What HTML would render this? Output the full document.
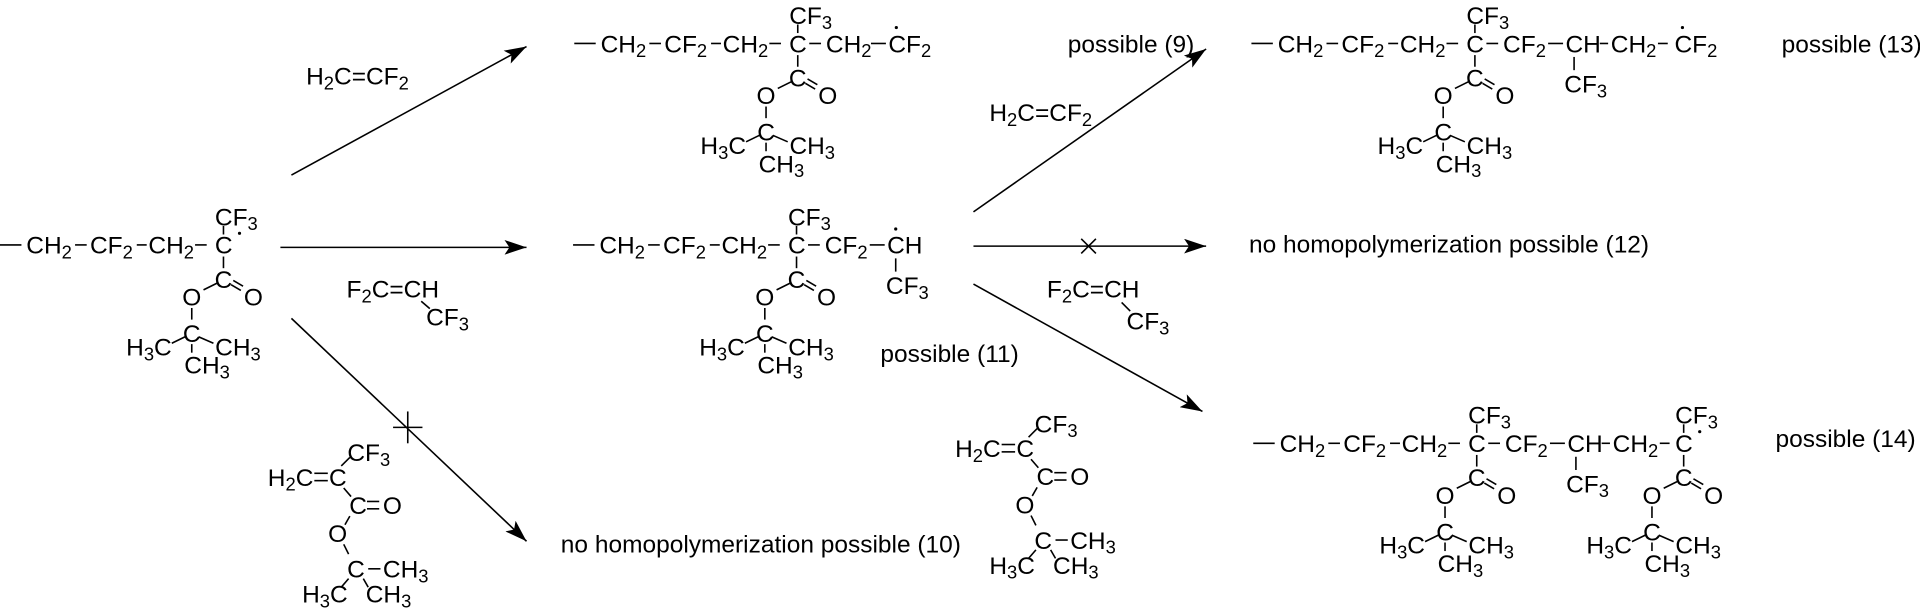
<!DOCTYPE html>
<html><head><meta charset="utf-8"><style>
html,body{margin:0;padding:0;background:#fff;}
svg{display:block;}
text{font-family:"Liberation Sans",Arial,sans-serif;font-size:20px;fill:#000;}
.l{font-size:20px;}
line,polyline{stroke:#000;stroke-width:1.3;fill:none;}
</style></head><body>
<svg width="1920" height="608" viewBox="0 0 1568 496.5" preserveAspectRatio="none" xmlns="http://www.w3.org/2000/svg">
<defs>
<marker id="ah" markerUnits="userSpaceOnUse" markerWidth="20" markerHeight="12" refX="18" refY="6" orient="auto">
<path d="M0,0 L18,6 L0,12 L4,6 z" fill="#000"/>
</marker>
<g id="ester">
<line x1="0" y1="-15.5" x2="0" y2="-8.5"/>
<text x="-7" y="-16">CF<tspan dy="4" font-size="15">3</tspan></text>
<line x1="0" y1="9.5" x2="0" y2="19"/>
<text x="0" y="35" text-anchor="middle">C</text>
<line x1="8" y1="29" x2="16" y2="33.7"/>
<line x1="6.2" y1="32.5" x2="14.2" y2="37.2"/>
<text x="24.5" y="49.4" text-anchor="middle">O</text>
<line x1="-5.4" y1="31.3" x2="-16.3" y2="36.7"/>
<text x="-25.9" y="49.4" text-anchor="middle">O</text>
<line x1="-25.9" y1="51.5" x2="-25.9" y2="61"/>
<text x="-25.9" y="79.2" text-anchor="middle">C</text>
<line x1="-31.3" y1="75" x2="-42.2" y2="80.3"/>
<text x="-79.5" y="90.2">H<tspan dy="4" font-size="15">3</tspan><tspan dy="-4">C</tspan></text>
<line x1="-20.4" y1="75" x2="-8.2" y2="80.3"/>
<text x="-6.8" y="90.2">CH<tspan dy="4" font-size="15">3</tspan></text>
<line x1="-25.9" y1="81" x2="-25.9" y2="88"/>
<text x="-32" y="105.2">CH<tspan dy="4" font-size="15">3</tspan></text>
</g>
<g id="head">
<line x1="0" y1="0" x2="17.5" y2="0"/>
<text x="21.5" y="7.2">CH<tspan dy="4" font-size="15">2</tspan></text>
<line x1="61.3" y1="0" x2="70.8" y2="0"/>
<text x="73.5" y="7.2">CF<tspan dy="4" font-size="15">2</tspan></text>
<line x1="111.7" y1="0" x2="119.8" y2="0"/>
<text x="121.2" y="7.2">CH<tspan dy="4" font-size="15">2</tspan></text>
<line x1="159.3" y1="0" x2="168.8" y2="0"/>
<text x="175.5" y="7.2">C</text>
<use href="#ester" x="182.5" y="0"/>
</g>
<g id="monomer">
<text x="845" y="353">CF<tspan dy="4" font-size="15">3</tspan></text>
<text x="780" y="373.2">H<tspan dy="4" font-size="15">2</tspan><tspan dy="-4">C</tspan></text>
<line x1="818" y1="363" x2="829" y2="363"/>
<line x1="818" y1="369" x2="829" y2="369"/>
<text x="830" y="373.2">C</text>
<line x1="840" y1="357" x2="847" y2="350"/>
<line x1="842" y1="375" x2="848" y2="382"/>
<text x="846.5" y="396.2">C</text>
<line x1="861" y1="386" x2="871" y2="386"/>
<line x1="861" y1="392" x2="871" y2="392"/>
<text x="874" y="396.2">O</text>
<line x1="847" y1="398" x2="843" y2="405"/>
<text x="837" y="419.2" text-anchor="middle">O</text>
<line x1="842" y1="421" x2="846" y2="429"/>
<text x="852" y="448.2" text-anchor="middle">C</text>
<line x1="862" y1="441" x2="872" y2="441"/>
<text x="874" y="448.2">CH<tspan dy="4" font-size="15">3</tspan></text>
<line x1="846" y1="449" x2="840" y2="456"/>
<text x="808" y="468.6">H<tspan dy="4" font-size="15">3</tspan><tspan dy="-4">C</tspan></text>
<line x1="858" y1="449" x2="862" y2="456"/>
<text x="860" y="468.6">CH<tspan dy="4" font-size="15">3</tspan></text>
</g>
</defs>

<!-- A -->
<g transform="translate(0,200)">
<use href="#head"/>
<circle cx="195.6" cy="-9.5" r="1.3" fill="#000"/>
</g>

<!-- B -->
<g transform="translate(469,35.5)">
<use href="#head"/>
<line x1="191.9" y1="0" x2="201.5" y2="0"/>
<text x="205.5" y="7.2">CH<tspan dy="4" font-size="15">2</tspan></text>
<line x1="242.3" y1="0" x2="254.5" y2="0"/>
<text x="256.5" y="7.2">CF<tspan dy="4" font-size="15">2</tspan></text>
<circle cx="263" cy="-13" r="1.3" fill="#000"/>
</g>

<!-- C -->
<g transform="translate(468,200)">
<use href="#head"/>
<line x1="191.9" y1="0" x2="201.5" y2="0"/>
<text x="205.5" y="7.2">CF<tspan dy="4" font-size="15">2</tspan></text>
<line x1="242.3" y1="0" x2="254.5" y2="0"/>
<text x="256.5" y="7.2">CH</text>
<circle cx="263.5" cy="-13" r="1.3" fill="#000"/>
<line x1="263.5" y1="11" x2="263.5" y2="21.8"/>
<text x="255.5" y="40">CF<tspan dy="4" font-size="15">3</tspan></text>
</g>

<!-- D -->
<g transform="translate(1022,35.5)">
<use href="#head"/>
<line x1="191.9" y1="0" x2="201.5" y2="0"/>
<text x="205.5" y="7.2">CF<tspan dy="4" font-size="15">2</tspan></text>
<line x1="242.3" y1="0" x2="254.5" y2="0"/>
<text x="256.5" y="7.2">CH</text>
<line x1="263.5" y1="11" x2="263.5" y2="21.8"/>
<text x="255.5" y="40">CF<tspan dy="4" font-size="15">3</tspan></text>
<line x1="284.5" y1="0" x2="291.3" y2="0"/>
<text x="293.5" y="7.2">CH<tspan dy="4" font-size="15">2</tspan></text>
<line x1="332" y1="0" x2="340" y2="0"/>
<text x="345.5" y="7.2">CF<tspan dy="4" font-size="15">2</tspan></text>
<circle cx="352" cy="-13" r="1.3" fill="#000"/>
</g>

<!-- E -->
<g transform="translate(1023.5,362)">
<use href="#head"/>
<line x1="191.9" y1="0" x2="201.5" y2="0"/>
<text x="205.5" y="7.2">CF<tspan dy="4" font-size="15">2</tspan></text>
<line x1="242.3" y1="0" x2="254.5" y2="0"/>
<text x="256.5" y="7.2">CH</text>
<line x1="263.5" y1="11" x2="263.5" y2="21.8"/>
<text x="255.5" y="40">CF<tspan dy="4" font-size="15">3</tspan></text>
<line x1="284.5" y1="0" x2="291.3" y2="0"/>
<text x="293.5" y="7.2">CH<tspan dy="4" font-size="15">2</tspan></text>
<line x1="332" y1="0" x2="340" y2="0"/>
<text x="344.5" y="7.2">C</text>
<use href="#ester" x="351.5" y="0"/>
<circle cx="364.6" cy="-9.5" r="1.3" fill="#000"/>
</g>

<!-- monomers -->
<use href="#monomer"/>
<use href="#monomer" x="-561.3" y="23.5"/>

<!-- reagents -->
<text x="250" y="69">H<tspan dy="4" font-size="15">2</tspan><tspan dy="-4">C=CF</tspan><tspan dy="4" font-size="15">2</tspan></text>
<text x="808" y="99">H<tspan dy="4" font-size="15">2</tspan><tspan dy="-4">C=CF</tspan><tspan dy="4" font-size="15">2</tspan></text>
<text x="283" y="243">F<tspan dy="4" font-size="15">2</tspan><tspan dy="-4">C=CH</tspan></text>
<line x1="344" y1="246" x2="351" y2="252"/>
<text x="348" y="266">CF<tspan dy="4" font-size="15">3</tspan></text>
<text x="855" y="243">F<tspan dy="4" font-size="15">2</tspan><tspan dy="-4">C=CH</tspan></text>
<line x1="916" y1="247" x2="923" y2="254"/>
<text x="920" y="269">CF<tspan dy="4" font-size="15">3</tspan></text>

<!-- labels -->
<text class="l" x="872" y="43">possible (9)</text>
<text class="l" x="719" y="295.5">possible (11)</text>
<text class="l" x="1455" y="43">possible (13)</text>
<text class="l" x="1450" y="365">possible (14)</text>
<text class="l" x="1020" y="206">no homopolymerization possible (12)</text>
<text class="l" x="458" y="451">no homopolymerization possible (10)</text>

<!-- arrows -->
<line x1="238" y1="143" x2="430" y2="38" marker-end="url(#ah)"/>
<line x1="229" y1="202" x2="430" y2="202" marker-end="url(#ah)"/>
<line x1="238" y1="260" x2="430" y2="442" marker-end="url(#ah)"/>
<line x1="321" y1="349" x2="345" y2="349"/>
<line x1="333" y1="336" x2="333" y2="362"/>
<line x1="795" y1="173" x2="985" y2="40" marker-end="url(#ah)"/>
<line x1="795" y1="201" x2="985" y2="201" marker-end="url(#ah)"/>
<line x1="883" y1="195" x2="895" y2="207"/>
<line x1="883" y1="207" x2="895" y2="195"/>
<line x1="795" y1="232" x2="982" y2="336" marker-end="url(#ah)"/>
</svg>
</body></html>
